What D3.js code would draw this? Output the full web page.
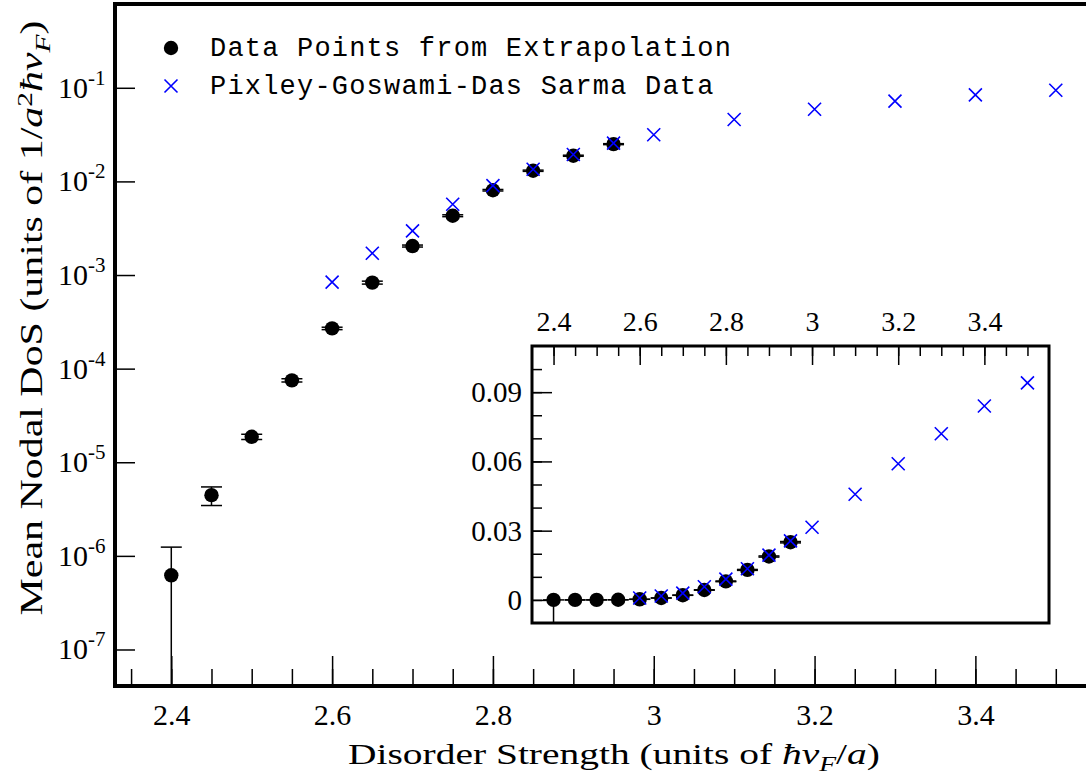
<!DOCTYPE html>
<html>
<head>
<meta charset="utf-8">
<script src="https://cdn.jsdelivr.net/npm/d3@7"></script>
<style>
  body { margin: 0; background: #fff; }
  .chart { width: 1086px; height: 778px; overflow: hidden; }
</style>
</head>
<body>
<div class="chart"></div>
<script>
// Disorder strength values and extrapolated mean nodal DoS (with error bars)
const extrapX = [2.4, 2.45, 2.5, 2.55, 2.6, 2.65, 2.7, 2.75, 2.8, 2.85, 2.9, 2.95];
const extrapDos = [6.2e-7, 4.45e-6, 1.87e-5, 7.5e-5, 2.69e-4, 8.3e-4, 2.04e-3, 4.3e-3, 8.05e-3, 0.0130, 0.0188, 0.0250];
const extrapErr = [6.2e-7, 1.0e-6, 1.2e-6, 3e-6, 8e-6, 3e-5, 5e-5, 1e-4, 1.5e-4, 2e-4, 2.5e-4, 3e-4];

// Pixley-Goswami-Das Sarma data
const pgdX = [2.6, 2.65, 2.7, 2.75, 2.8, 2.85, 2.9, 2.95, 3.0, 3.1, 3.2, 3.3, 3.4, 3.5];
const pgdDos = [8.4e-4, 1.71e-3, 2.96e-3, 5.7e-3, 9.0e-3, 0.0135, 0.0194, 0.0256, 0.0315, 0.0458, 0.059, 0.072, 0.084, 0.094];

// ticks
const mainXTicks = [2.4, 2.6, 2.8, 3.0, 3.2, 3.4];
const mainYExponents = [-1, -2, -3, -4, -5, -6, -7];
const insetXTicks = [2.4, 2.6, 2.8, 3.0, 3.2, 3.4];
const insetYTicks = [0, 0.03, 0.06, 0.09];
const insetYLabels = ["0", "0.03", "0.06", "0.09"];

const legendLabels = ["Data Points from Extrapolation", "Pixley-Goswami-Das Sarma Data"];

const serif = '"Liberation Serif", "Times New Roman", serif';
const mono = '"Liberation Mono", "Courier New", monospace';

let chart = {};

init();

function init() {
    chart.points = extrapX.map((x, i) => ({ x: x, y: extrapDos[i], e: extrapErr[i] }));
    chart.crosses = pgdX.map((x, i) => ({ x: x, y: pgdDos[i] }));

    setDimensions();
    setScales();
    appendElements();
}

function setDimensions() {
    // main frame: left/top/bottom edges, right one runs off the page
    chart.main = { left: 115, top: 4, right: 1096, bottom: 686 };
    // inset box
    chart.inset = { left: 532, top: 346, right: 1049, bottom: 623 };
}

function setScales() {
    chart.x = d3.scaleLinear().domain([2.33, 3.55]).range([chart.main.left, chart.main.right]);
    chart.y = d3.scaleLog().domain([Math.pow(10, -7.39), Math.pow(10, -0.105)]).range([chart.main.bottom, chart.main.top]);

    chart.ix = d3.scaleLinear().domain([2.35, 3.55]).range([chart.inset.left, chart.inset.right]);
    chart.iy = d3.scaleLinear().domain([-0.01, 0.11]).range([chart.inset.bottom, chart.inset.top]);
}

function crossPath(cx, cy, s) {
    return `M${cx - s},${cy - s}L${cx + s},${cy + s}M${cx - s},${cy + s}L${cx + s},${cy - s}`;
}

function styleLabels(g, size) {
    g.attr("font-family", null).attr("font-size", null);
    g.selectAll("text")
        .style("font-family", serif)
        .style("font-size", size + "px")
        .attr("fill", "#000");
}

// stretch a title sideways so it spans the wanted width (the original font is wider than Times)
function stretchTo(text, width, baseTransform) {
    let w = text.node().getComputedTextLength();
    text.attr("transform", `${baseTransform} scale(${width / w},1)`);
}

function drawMarks(g, x, y, clampBottom) {
    // error bars
    let eb = g.append("g").attr("class", "errorbars");
    chart.points.forEach(d => {
        let cx = x(d.x);
        let lo = d.y - d.e;
        let yTop = y(d.y + d.e);
        let yBot = lo > 0 ? y(lo) : clampBottom;
        if (!isFinite(yBot)) yBot = clampBottom;
        eb.append("line").attr("x1", cx).attr("x2", cx).attr("y1", yTop).attr("y2", yBot)
            .attr("stroke", "#000").attr("stroke-width", 1.5);
        eb.append("line").attr("x1", cx - 10.5).attr("x2", cx + 10.5).attr("y1", yTop).attr("y2", yTop)
            .attr("stroke", "#000").attr("stroke-width", 1.5);
        if (lo > 0) {
            eb.append("line").attr("x1", cx - 10.5).attr("x2", cx + 10.5).attr("y1", yBot).attr("y2", yBot)
                .attr("stroke", "#000").attr("stroke-width", 1.5);
        }
    });

    g.selectAll("circle.pt")
        .data(chart.points).enter()
        .append("circle")
        .attr("class", "pt")
        .attr("cx", d => x(d.x))
        .attr("cy", d => y(d.y))
        .attr("r", 7.2)
        .attr("fill", "#000");

    g.selectAll("path.cross")
        .data(chart.crosses).enter()
        .append("path")
        .attr("class", "cross")
        .attr("d", d => crossPath(x(d.x), y(d.y), 6.5))
        .attr("stroke", "#0000ff")
        .attr("stroke-width", 1.6)
        .attr("fill", "none");
}

function appendElements() {
    chart.svg = d3.select(".chart").append("svg")
        .attr("width", 1086)
        .attr("height", 778);

    let m = chart.main;

    // ---- main plot ----
    chart.plot = chart.svg.append("g").attr("class", "main-g");

    // x ticks (inside, from the bottom)
    let xMinor = d3.range(2.35, 3.56, 0.05).map(v => +v.toFixed(2));
    chart.plot.append("g")
        .attr("transform", `translate(0,${m.bottom})`)
        .call(d3.axisBottom(chart.x).tickValues(xMinor).tickSize(-17).tickFormat(""))
        .call(g => g.select(".domain").remove())
        .call(g => g.selectAll("line").attr("stroke-width", 1.5));
    chart.plot.append("g")
        .attr("transform", `translate(0,${m.bottom})`)
        .call(d3.axisBottom(chart.x).tickValues(mainXTicks).tickSize(-30).tickFormat(d3.format("")))
        .call(g => g.select(".domain").remove())
        .call(g => g.selectAll("line").attr("stroke-width", 1.5))
        .call(g => styleLabels(g, 30))
        .call(g => g.selectAll("text").attr("y", 39).attr("dy", 0));

    // y ticks (log, inside from the left)
    chart.plot.append("g")
        .attr("transform", `translate(${m.left},0)`)
        .call(d3.axisLeft(chart.y).tickValues(mainYExponents.map(e => Math.pow(10, e))).tickSize(-20).tickFormat(""))
        .call(g => g.select(".domain").remove())
        .call(g => g.selectAll("line").attr("stroke-width", 1.5));

    mainYExponents.forEach(e => {
        let yy = chart.y(Math.pow(10, e));
        let t = chart.plot.append("text")
            .style("font-family", serif)
            .style("font-size", "30px")
            .attr("x", 58)
            .attr("y", yy + 10);
        t.append("tspan").text("10");
        t.append("tspan").attr("dy", -13).style("font-size", "21px").text("-" + Math.abs(e));
    });

    // data marks, clipped to the frame
    chart.svg.append("clipPath").attr("id", "mainclip")
        .append("rect").attr("x", m.left).attr("y", m.top).attr("width", m.right - m.left).attr("height", m.bottom - m.top);
    let marks = chart.plot.append("g").attr("clip-path", "url(#mainclip)");
    drawMarks(marks, chart.x, chart.y, m.bottom);

    // frame
    chart.plot.append("rect")
        .attr("x", m.left).attr("y", m.top)
        .attr("width", m.right - m.left).attr("height", m.bottom - m.top)
        .attr("fill", "none").attr("stroke", "#000").attr("stroke-width", 4);

    // axis titles
    let xt = chart.svg.append("text")
        .style("font-family", serif).style("font-size", "30px")
        .attr("x", 0).attr("y", 0).attr("text-anchor", "middle");
    xt.append("tspan").text("Disorder Strength (units of ");
    xt.append("tspan").style("font-style", "italic").text("ħv");
    xt.append("tspan").style("font-style", "italic").style("font-size", "0.7em").attr("dy", "0.35em").text("F");
    xt.append("tspan").attr("dy", "-0.245em").text("/");
    xt.append("tspan").style("font-style", "italic").text("a");
    xt.append("tspan").text(")");
    stretchTo(xt, 532, "translate(614,764)");

    let yt = chart.svg.append("text")
        .style("font-family", serif).style("font-size", "31px")
        .attr("x", 0).attr("y", 0).attr("text-anchor", "middle");
    yt.append("tspan").text("Mean Nodal DoS (units of 1/");
    yt.append("tspan").style("font-style", "italic").text("a");
    yt.append("tspan").style("font-size", "0.7em").attr("dy", "-0.45em").text("2");
    yt.append("tspan").style("font-style", "italic").attr("dy", "0.315em").text("ħv");
    yt.append("tspan").style("font-style", "italic").style("font-size", "0.7em").attr("dy", "0.35em").text("F");
    yt.append("tspan").attr("dy", "-0.245em").text(")");
    stretchTo(yt, 595, "translate(42,318) rotate(-90)");

    // legend
    let lg = chart.svg.append("g").attr("class", "legend-g");
    lg.append("circle").attr("cx", 171).attr("cy", 48).attr("r", 7.2).attr("fill", "#000");
    lg.append("path").attr("d", crossPath(171, 86, 6.5)).attr("stroke", "#0000ff").attr("stroke-width", 1.6).attr("fill", "none");
    legendLabels.forEach((s, i) => {
        lg.append("text")
            .style("font-family", mono).style("font-size", "27px").style("letter-spacing", "1.2px")
            .attr("x", 210).attr("y", 56 + i * 38).text(s);
    });

    // ---- inset ----
    let n = chart.inset;
    chart.insetG = chart.svg.append("g").attr("class", "inset-g");
    chart.insetG.append("rect")
        .attr("x", n.left).attr("y", n.top)
        .attr("width", n.right - n.left).attr("height", n.bottom - n.top)
        .attr("fill", "#fff");

    let ixMinor = d3.range(2.4, 3.51, 0.05).map(v => +v.toFixed(2));
    chart.insetG.append("g")
        .attr("transform", `translate(0,${n.top})`)
        .call(d3.axisTop(chart.ix).tickValues(ixMinor).tickSize(-10).tickFormat(""))
        .call(g => g.select(".domain").remove())
        .call(g => g.selectAll("line").attr("stroke-width", 1.5));
    chart.insetG.append("g")
        .attr("transform", `translate(0,${n.top})`)
        .call(d3.axisTop(chart.ix).tickValues(insetXTicks).tickSize(-19).tickFormat(d3.format("")))
        .call(g => g.select(".domain").remove())
        .call(g => g.selectAll("line").attr("stroke-width", 1.5))
        .call(g => styleLabels(g, 28))
        .call(g => g.selectAll("text").attr("y", -15).attr("dy", 0));

    let iyMinor = d3.range(0, 0.105, 0.01).map(v => +v.toFixed(2));
    chart.insetG.append("g")
        .attr("transform", `translate(${n.left},0)`)
        .call(d3.axisLeft(chart.iy).tickValues(iyMinor).tickSize(-10).tickFormat(""))
        .call(g => g.select(".domain").remove())
        .call(g => g.selectAll("line").attr("stroke-width", 1.5));
    chart.insetG.append("g")
        .attr("transform", `translate(${n.left},0)`)
        .call(d3.axisLeft(chart.iy).tickValues(insetYTicks).tickSize(-20).tickFormat((d, i) => insetYLabels[i]))
        .call(g => g.select(".domain").remove())
        .call(g => g.selectAll("line").attr("stroke-width", 1.5))
        .call(g => styleLabels(g, 29))
        .call(g => g.selectAll("text").attr("x", -10).attr("dy", "0.33em"));

    let imarks = chart.insetG.append("g");
    drawMarks(imarks, chart.ix, chart.iy, n.bottom);

    chart.insetG.append("rect")
        .attr("x", n.left).attr("y", n.top)
        .attr("width", n.right - n.left).attr("height", n.bottom - n.top)
        .attr("fill", "none").attr("stroke", "#000").attr("stroke-width", 3);
}
</script>
</body>
</html>
